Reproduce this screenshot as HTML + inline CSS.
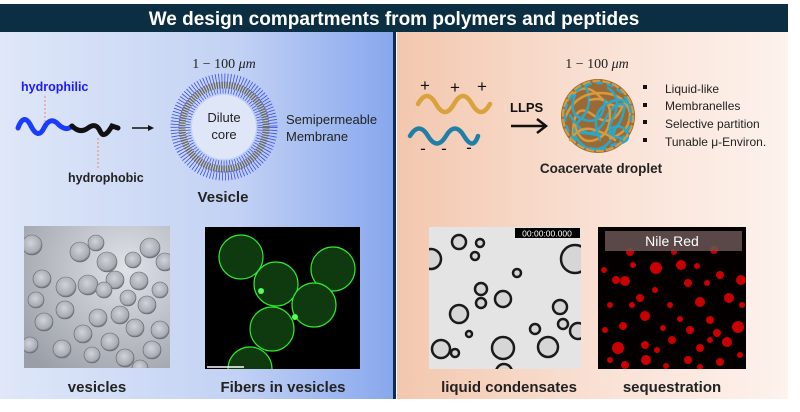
<!DOCTYPE html>
<html><head><meta charset="utf-8"><style>
html,body{margin:0;padding:0;background:#fff}
body{width:800px;height:407px;overflow:hidden;position:relative;font-family:"Liberation Sans",sans-serif}
</style></head><body>
<svg width="800" height="407" viewBox="0 0 800 407" xmlns="http://www.w3.org/2000/svg" font-family="Liberation Sans, sans-serif">
<defs>
<linearGradient id="lg" x1="0" x2="1" y1="0" y2="0"><stop offset="0" stop-color="#dfe7f8"/><stop offset="0.6" stop-color="#c3d2f4"/><stop offset="1" stop-color="#87a7ee"/></linearGradient>
<linearGradient id="rg" x1="0" x2="1" y1="0" y2="0"><stop offset="0" stop-color="#f3c7ae"/><stop offset="0.5" stop-color="#f9e0d3"/><stop offset="1" stop-color="#fdf2ed"/></linearGradient>
<radialGradient id="ves" cx="0.45" cy="0.4" r="0.6"><stop offset="0" stop-color="#d0d3d8"/><stop offset="0.8" stop-color="#a8acb3"/><stop offset="1" stop-color="#6a6e76"/></radialGradient>
<radialGradient id="vbg" cx="0.7" cy="0.3" r="0.9"><stop offset="0" stop-color="#dfe2e7"/><stop offset="1" stop-color="#9a9ea6"/></radialGradient>
</defs>
<rect x="0" y="32" width="394" height="367" fill="url(#lg)"/>
<rect x="397" y="32" width="391" height="367" fill="url(#rg)"/>
<rect x="393" y="32" width="3" height="367" fill="#0e2a55"/>
<rect x="0" y="4" width="788" height="28" fill="#0b2e42"/>
<text x="394" y="25" font-size="19" font-weight="bold" fill="#fff" text-anchor="middle">We design compartments from polymers and peptides</text>

<!-- left top -->
<text x="21" y="91" font-size="12.5" font-weight="bold" fill="#1a1aff">hydrophilic</text>
<line x1="45" y1="96" x2="45" y2="122" stroke="#f08a5a" stroke-dasharray="2,2"/>
<path d="M18,128 Q24,112 31,126 T44,128 T58,124 T72,126" stroke="#1a3cff" stroke-width="5" fill="none" stroke-linecap="round"/>
<path d="M72,126 Q80,134 88,128 T100,131 T112,126 L118,128" stroke="#111" stroke-width="5" fill="none" stroke-linecap="round"/>
<line x1="98" y1="138" x2="98" y2="168" stroke="#f08a5a" stroke-dasharray="2,2"/>
<text x="68" y="182" font-size="12.5" font-weight="bold" fill="#222">hydrophobic</text>
<line x1="132" y1="128" x2="150" y2="128" stroke="#111" stroke-width="1.5"/>
<polygon points="154,128 148,125 148,131" fill="#111"/>
<text x="224" y="68" font-size="14" font-family="Liberation Serif, serif" text-anchor="middle" fill="#222">1 − 100 <tspan font-style="italic">μm</tspan></text>
<circle cx="224" cy="127" r="49" fill="none" stroke="#3a4cf0" stroke-width="9" stroke-dasharray="0.8,2.2"/>
<circle cx="224" cy="127" r="42" fill="none" stroke="#6a6a6a" stroke-width="7" stroke-dasharray="1.5,1"/>
<circle cx="224" cy="127" r="36" fill="none" stroke="#4055f0" stroke-width="5" stroke-dasharray="0.8,2"/>
<circle cx="224" cy="127" r="32" fill="#dfe6f8"/>
<text x="224" y="122" font-size="13" text-anchor="middle" fill="#222">Dilute</text>
<text x="224" y="139" font-size="13" text-anchor="middle" fill="#222">core</text>
<text x="286" y="124" font-size="13" fill="#222">Semipermeable</text>
<text x="286" y="141" font-size="13" fill="#222">Membrane</text>
<text x="223" y="202" font-size="15" font-weight="bold" text-anchor="middle" fill="#222">Vesicle</text>

<!-- vesicles photo -->
<g><clipPath id="c1"><rect x="24" y="226" width="146" height="142"/></clipPath>
<rect x="24" y="226" width="146" height="142" fill="url(#vbg)"/>
<g clip-path="url(#c1)" fill="url(#ves)" stroke="#666" stroke-width="0.6">
<circle cx="32" cy="245" r="10"/><circle cx="96" cy="243" r="8"/><circle cx="80" cy="252" r="10"/><circle cx="66" cy="287" r="10"/><circle cx="42" cy="279" r="9"/><circle cx="36" cy="300" r="8"/><circle cx="107" cy="262" r="10"/><circle cx="133" cy="260" r="8"/><circle cx="150" cy="248" r="10"/><circle cx="165" cy="262" r="9"/>
<circle cx="115" cy="280" r="9"/><circle cx="139" cy="281" r="9"/><circle cx="160" cy="290" r="8"/><circle cx="88" cy="285" r="10"/><circle cx="104" cy="290" r="8"/><circle cx="128" cy="298" r="8"/><circle cx="147" cy="305" r="9"/><circle cx="120" cy="315" r="9"/><circle cx="65" cy="310" r="9"/><circle cx="98" cy="318" r="9"/>
<circle cx="44" cy="322" r="9"/><circle cx="83" cy="334" r="9"/><circle cx="110" cy="342" r="9"/><circle cx="135" cy="328" r="9"/><circle cx="160" cy="330" r="9"/><circle cx="152" cy="350" r="9"/><circle cx="125" cy="358" r="9"/><circle cx="62" cy="349" r="9"/><circle cx="92" cy="355" r="8"/><circle cx="30" cy="345" r="8"/><circle cx="140" cy="368" r="8"/></g></g>
<!-- fibers photo -->
<rect x="205" y="227" width="155" height="142" fill="#000"/>
<clipPath id="c2"><rect x="205" y="227" width="155" height="142"/></clipPath>
<g clip-path="url(#c2)" fill="#0f3a0f" stroke="#2ee82e" stroke-width="1.2">
<circle cx="241" cy="257" r="22"/><circle cx="276" cy="284" r="22"/><circle cx="333" cy="269" r="22"/><circle cx="314" cy="305" r="22"/><circle cx="272" cy="329" r="22"/><circle cx="250" cy="369" r="22"/></g>
<circle cx="261" cy="291" r="3" fill="#5f5"/><circle cx="295" cy="317" r="3" fill="#5f5"/>
<line x1="207" y1="367" x2="244" y2="367" stroke="#fff" stroke-width="1.5"/>
<text x="97" y="392" font-size="15" font-weight="bold" text-anchor="middle" fill="#222">vesicles</text>
<text x="283" y="392" font-size="15" font-weight="bold" text-anchor="middle" fill="#222">Fibers in vesicles</text>

<!-- right top -->
<g font-size="17" fill="#111" text-anchor="middle"><text x="425" y="91">+</text><text x="455" y="93">+</text><text x="482" y="92">+</text>
<text x="423" y="154">-</text><text x="444" y="154">-</text><text x="469" y="153">-</text></g>
<path d="M418,104 Q427,88 436,104 T454,104 T472,104 T490,104" stroke="#d9a23c" stroke-width="4.5" fill="none" stroke-linecap="round"/>
<path d="M410,136 Q419,121 428,136 T446,136 T464,136 T478,136" stroke="#1f7fa6" stroke-width="4.5" fill="none" stroke-linecap="round"/>
<text x="510" y="112" font-size="13" font-weight="bold" fill="#111">LLPS</text>
<line x1="511" y1="126" x2="545" y2="126" stroke="#111" stroke-width="2.5"/>
<polyline points="537,119 546,126 537,133" stroke="#111" stroke-width="2.5" fill="none"/>
<text x="597" y="68" font-size="14" font-family="Liberation Serif, serif" text-anchor="middle" fill="#222">1 − 100 <tspan font-style="italic">μm</tspan></text>
<circle cx="598" cy="116" r="37" fill="#9a6a35"/>
<g fill="none" stroke-width="2.4" stroke-linecap="round">
<path d="M568,100 q15,-20 30,-5 t25,10 q-10,25 -30,10 t-20,20" stroke="#d89a3c"/>
<path d="M575,130 q20,10 30,-10 t20,-15 q-5,30 -25,30 t-30,-20" stroke="#28a8cf"/>
<path d="M585,85 q10,20 -5,35 t10,30 q20,0 25,-20" stroke="#28a8cf"/>
<path d="M565,118 q10,-25 35,-25 t30,20 q0,20 -20,25" stroke="#d89a3c"/>
<path d="M590,100 q20,-5 20,15 t-15,25 q-15,5 -20,-15" stroke="#d89a3c"/>
<path d="M608,88 q15,10 5,30 t10,20" stroke="#28a8cf"/>
<path d="M570,140 q10,-15 25,-10 t20,10" stroke="#d89a3c"/>
<path d="M600,140 q-10,-25 5,-35 t25,0" stroke="#28a8cf"/>
<path d="M575,95 q-8,20 10,25 t20,-20" stroke="#28a8cf"/>
<path d="M612,128 q10,-5 15,5 t-15,12" stroke="#28a8cf"/>
<circle cx="598" cy="116" r="35" stroke="#d89a3c" stroke-dasharray="6,4"/>
<circle cx="598" cy="116" r="33" stroke="#28a8cf" stroke-dasharray="5,6"/>
</g>
<g fill="#111"><rect x="643" y="85" width="4" height="4"/><rect x="643" y="103" width="4" height="4"/><rect x="643" y="120" width="4" height="4"/><rect x="643" y="138" width="4" height="4"/></g>
<g font-size="12" fill="#222"><text x="665" y="93">Liquid-like</text><text x="665" y="110">Membranelles</text><text x="665" y="128">Selective partition</text><text x="665" y="146">Tunable μ-Environ.</text></g>
<text x="601" y="173" font-size="13.5" font-weight="bold" text-anchor="middle" fill="#222">Coacervate droplet</text>

<!-- liquid condensates photo -->
<rect x="429" y="227" width="152" height="142" fill="#e4e4e4"/>
<clipPath id="c3"><rect x="429" y="227" width="152" height="142"/></clipPath>
<g clip-path="url(#c3)" fill="#d6d6d6" stroke="#1a1a1a" stroke-width="2.5">
<circle cx="459" cy="242" r="7"/><circle cx="480" cy="243" r="4"/><circle cx="475" cy="256" r="4"/><circle cx="431" cy="259" r="10"/><circle cx="575" cy="259" r="14"/><circle cx="517" cy="273" r="4"/>
<circle cx="481" cy="289" r="6"/><circle cx="481" cy="303" r="5"/><circle cx="503" cy="299" r="8"/><circle cx="459" cy="314" r="9"/><circle cx="560" cy="307" r="7"/><circle cx="563" cy="324" r="5"/>
<circle cx="535" cy="329" r="5"/><circle cx="578" cy="331" r="8"/><circle cx="469" cy="334" r="3"/><circle cx="455" cy="353" r="4"/><circle cx="441" cy="349" r="9"/><circle cx="503" cy="348" r="11"/><circle cx="548" cy="347" r="10"/><circle cx="504" cy="372" r="8"/></g>
<rect x="515" y="228" width="65" height="10" fill="#000"/>
<text x="547" y="236.5" font-size="8.5" fill="#fff" text-anchor="middle">00:00:00.000</text>
<!-- sequestration -->
<rect x="598" y="227" width="148" height="142" fill="#050000"/>
<clipPath id="c4"><rect x="598" y="227" width="148" height="142"/></clipPath>
<g clip-path="url(#c4)" fill="#c80000">
<circle cx="656" cy="268" r="6"/><circle cx="681" cy="265" r="5"/><circle cx="616" cy="280" r="4"/><circle cx="625" cy="281" r="5"/><circle cx="655" cy="290" r="3"/><circle cx="688" cy="283" r="4"/><circle cx="720" cy="275" r="4"/><circle cx="741" cy="280" r="5"/><circle cx="707" cy="283" r="3"/>
<circle cx="640" cy="298" r="4"/><circle cx="670" cy="305" r="3"/><circle cx="700" cy="302" r="5"/><circle cx="729" cy="298" r="5"/><circle cx="610" cy="305" r="3"/><circle cx="645" cy="316" r="5"/><circle cx="680" cy="319" r="3"/><circle cx="710" cy="320" r="4"/><circle cx="738" cy="327" r="6"/>
<circle cx="623" cy="326" r="4"/><circle cx="663" cy="328" r="3"/><circle cx="690" cy="330" r="4"/><circle cx="717" cy="333" r="4"/><circle cx="618" cy="348" r="6"/><circle cx="645" cy="345" r="4"/><circle cx="672" cy="340" r="4"/><circle cx="700" cy="348" r="4"/><circle cx="727" cy="342" r="5"/>
<circle cx="646" cy="360" r="5"/><circle cx="610" cy="360" r="3"/><circle cx="688" cy="360" r="4"/><circle cx="720" cy="362" r="4"/><circle cx="740" cy="355" r="3"/><circle cx="630" cy="252" r="4"/><circle cx="674" cy="252" r="3"/><circle cx="714" cy="250" r="4"/>
<circle cx="604" cy="270" r="3"/><circle cx="633" cy="265" r="3"/><circle cx="697" cy="266" r="3"/><circle cx="605" cy="330" r="3"/><circle cx="632" cy="305" r="3"/><circle cx="657" cy="350" r="3"/><circle cx="710" cy="340" r="3"/><circle cx="625" cy="365" r="4"/><circle cx="666" cy="366" r="3"/><circle cx="700" cy="367" r="3"/><circle cx="742" cy="305" r="3"/></g>
<rect x="605" y="231" width="137" height="20" fill="#6a5555" opacity="0.85"/>
<text x="672" y="246" font-size="14" fill="#fff" text-anchor="middle">Nile Red</text>
<text x="509" y="392" font-size="15" font-weight="bold" text-anchor="middle" fill="#222">liquid condensates</text>
<text x="672" y="392" font-size="15" font-weight="bold" text-anchor="middle" fill="#222">sequestration</text>
</svg>
</body></html>
